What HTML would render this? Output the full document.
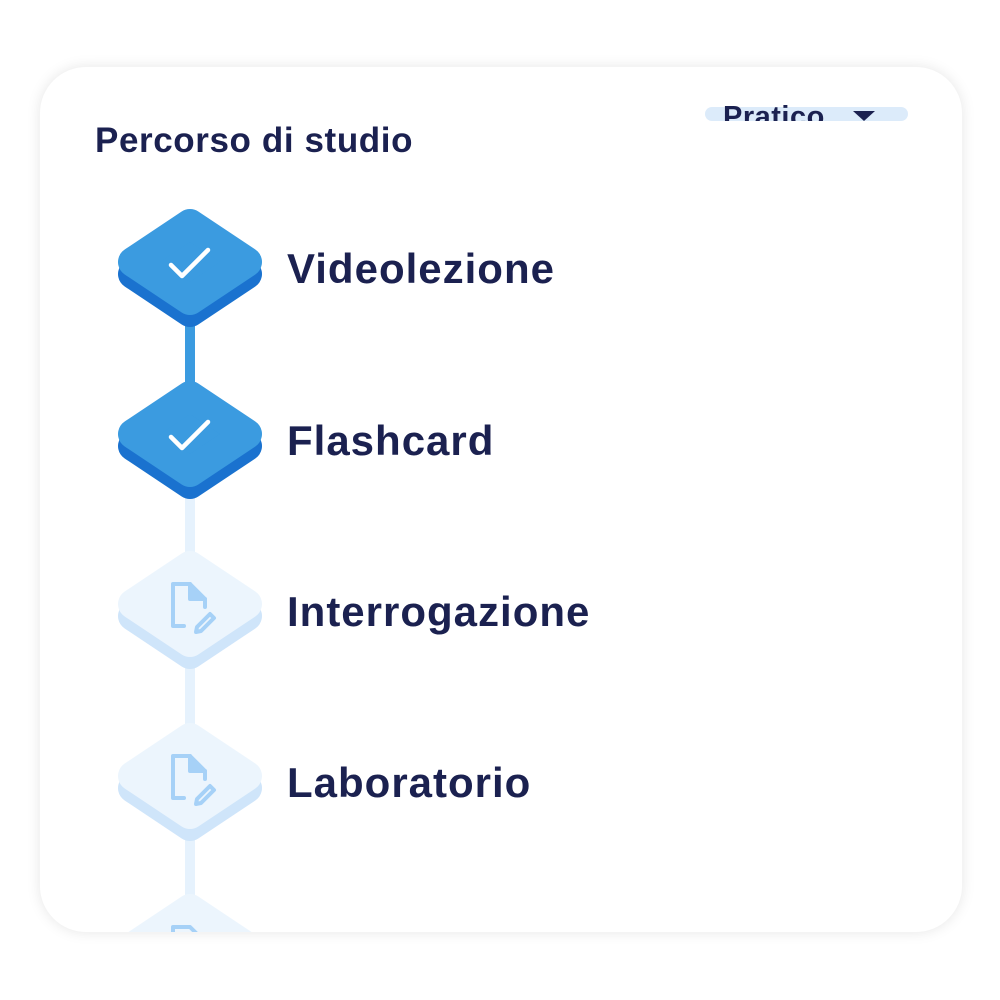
<!DOCTYPE html>
<html><head><meta charset="utf-8"><style>
html,body{margin:0;padding:0;width:1000px;height:1000px;background:#fff;overflow:hidden;font-family:"Liberation Sans",sans-serif}
.card{position:absolute;left:40px;top:67px;width:922px;height:865px;border-radius:46px;background:#fff;box-shadow:0 0 14px rgba(0,0,0,0.10);overflow:hidden}
.t{position:absolute;color:#1b2150;font-weight:bold;white-space:nowrap}
.big{font-size:42px;letter-spacing:1px}
</style></head><body>
<div class="card">
<svg width="922" height="865" style="position:absolute;left:0;top:0" viewBox="40 67 922 865">
 <defs>
  <g id="dia"><polygon points="133,0 190,-38 247,0 190,38" stroke-linejoin="round" stroke-width="30"/></g>
 </defs>
 <rect x="705" y="107" width="203" height="14" rx="7" fill="#dcebfa"/>
 <polygon points="853,111 875,111 864,121" fill="#1b2150"/>
 <g transform="translate(0,4)">
 <rect x="185" y="300" width="10" height="110" fill="#3b9be0"/>
 <rect x="185" y="470" width="10" height="110" fill="#e6f2fd"/>
 <rect x="185" y="640" width="10" height="110" fill="#e6f2fd"/>
 <rect x="185" y="810" width="10" height="110" fill="#e6f2fd"/>
 <g transform="translate(0,270)"><use href="#dia" fill="#1a72cf" stroke="#1a72cf"/></g>
 <g transform="translate(0,258)"><use href="#dia" fill="#3b9be0" stroke="#3b9be0"/></g>
 <polyline points="171,261 182,272 208,246" fill="none" stroke="#fff" stroke-width="4.5" stroke-linecap="round" stroke-linejoin="round"/>
 <g transform="translate(0,442)"><use href="#dia" fill="#1a72cf" stroke="#1a72cf"/></g>
 <g transform="translate(0,430)"><use href="#dia" fill="#3b9be0" stroke="#3b9be0"/></g>
 <polyline points="171,433 182,444 208,418" fill="none" stroke="#fff" stroke-width="4.5" stroke-linecap="round" stroke-linejoin="round"/>
 <g>
 <g transform="translate(0,612)"><use href="#dia" fill="#cfe5fa" stroke="#cfe5fa"/></g>
 <g transform="translate(0,600)"><use href="#dia" fill="#ecf5fd" stroke="#ecf5fd"/></g>
 <g fill="none" stroke="#a6d1f7" stroke-width="4" stroke-linejoin="round" stroke-linecap="round">
  <path d="M184,622 H173 V580 H190 L205,595 V603"/>
  <path d="M190,580 V595 H205" fill="#a6d1f7"/>
  <path d="M197,623 L210,610 L214,614 L201,627 L196,628 Z"/>
 </g>
 </g>
 <g transform="translate(0,172)">
 <g transform="translate(0,612)"><use href="#dia" fill="#cfe5fa" stroke="#cfe5fa"/></g>
 <g transform="translate(0,600)"><use href="#dia" fill="#ecf5fd" stroke="#ecf5fd"/></g>
 <g fill="none" stroke="#a6d1f7" stroke-width="4" stroke-linejoin="round" stroke-linecap="round">
  <path d="M184,622 H173 V580 H190 L205,595 V603"/>
  <path d="M190,580 V595 H205" fill="#a6d1f7"/>
  <path d="M197,623 L210,610 L214,614 L201,627 L196,628 Z"/>
 </g>
 </g>
 <g transform="translate(0,343)">
 <g transform="translate(0,600)"><use href="#dia" fill="#ecf5fd" stroke="#ecf5fd"/></g>
 <g fill="none" stroke="#a6d1f7" stroke-width="4" stroke-linejoin="round" stroke-linecap="round">
  <path d="M184,622 H173 V580 H190 L205,595 V603"/>
 </g>
 </g>
 </g>
</svg>
<div style="position:absolute;left:0;top:0;width:922px;height:54px;overflow:hidden">
 <div class="t" style="left:683px;top:34px;font-size:29px;letter-spacing:0.5px">Pratico</div>
</div>
<div class="t" style="left:55px;top:54px;font-size:35px;letter-spacing:0.6px">Percorso di studio</div>
<div class="t big" style="left:247px;top:178px">Videolezione</div>
<div class="t big" style="left:247px;top:350px">Flashcard</div>
<div class="t big" style="left:247px;top:521px">Interrogazione</div>
<div class="t big" style="left:247px;top:692px">Laboratorio</div>
</div>
</body></html>
